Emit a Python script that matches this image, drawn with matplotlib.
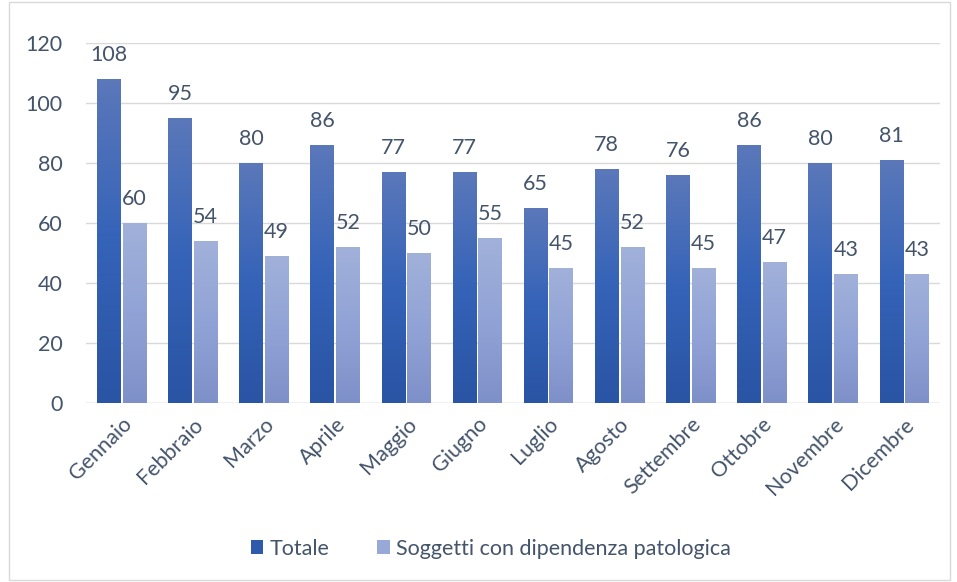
import matplotlib
matplotlib.use("Agg")
import matplotlib.pyplot as plt
import numpy as np
from matplotlib.patches import Rectangle, Patch
from matplotlib.colors import LinearSegmentedColormap

# Data
mesi = ["Gennaio", "Febbraio", "Marzo", "Aprile", "Maggio", "Giugno",
        "Luglio", "Agosto", "Settembre", "Ottobre", "Novembre", "Dicembre"]
totale = [108, 95, 80, 86, 77, 77, 65, 78, 76, 86, 80, 81]
soggetti = [60, 54, 49, 52, 50, 55, 45, 52, 45, 47, 43, 43]
serie_nomi = ["Totale", "Soggetti con dipendenza patologica"]

plt.rcParams['font.family'] = ['Lato', 'DejaVu Sans']
txt_col = '#44546a'
fs = 15.5

fig = plt.figure(figsize=(9.57, 5.82), dpi=100)
ax = fig.add_axes([0.0899, 0.3076, 0.892, 0.6186])

# gradients: bottom colour -> top colour
cmap_tot = LinearSegmentedColormap.from_list('tot', ['#2a54a4', '#3563b8', '#5b78ba'])
cmap_sog = LinearSegmentedColormap.from_list('sog', ['#7e90c8', '#91a3d6', '#a1b1da'])

x = np.arange(len(mesi))
w = 0.33
gap = 0.03
bars1 = ax.bar(x - w / 2 - gap / 2, totale, w, color='#3563b8', label=serie_nomi[0], zorder=2)
bars2 = ax.bar(x + w / 2 + gap / 2, soggetti, w, color='#91a3d6', label=serie_nomi[1], zorder=2)

grad = np.linspace(0, 1, 256).reshape(-1, 1)
for bars, cm in ((bars1, cmap_tot), (bars2, cmap_sog)):
    for b in bars:
        bx, by = b.get_x(), b.get_y()
        bw, bh = b.get_width(), b.get_height()
        im = ax.imshow(grad, cmap=cm, extent=[bx, bx + bw, by, by + bh],
                       origin='lower', aspect='auto', zorder=3)
        im.set_clip_path(b)
        b.set_facecolor('none')
        b.set_edgecolor('none')

for bars, vals in ((bars1, totale), (bars2, soggetti)):
    for b, v in zip(bars, vals):
        ax.text(b.get_x() + b.get_width() / 2, v + 4.5, str(v), ha='center', va='bottom',
                fontsize=fs, color=txt_col, zorder=4)

ax.set_xlim(-0.5, len(mesi) - 0.5)
ax.set_ylim(0, 120)
ax.set_yticks(range(0, 121, 20))
ax.grid(axis='y', color='#d9d9d9', linewidth=1, zorder=0)
ax.set_axisbelow(True)
for s in ax.spines.values():
    s.set_visible(False)
ax.axhline(0, color='#d9d9d9', linewidth=1, zorder=1)
ax.tick_params(axis='both', length=0, labelsize=fs, labelcolor=txt_col)
ax.tick_params(axis='y', pad=17)
ax.set_xticks(x)
ax.set_xticklabels(mesi, rotation=45, ha='right', rotation_mode='anchor')
ax.tick_params(axis='x', pad=8)

# legend
handles = [Patch(facecolor='#2f5aab', label=serie_nomi[0]),
           Patch(facecolor='#98a9d8', label=serie_nomi[1])]
fig.legend(handles=handles, loc='center', bbox_to_anchor=(0.513, 0.057), ncol=2, frameon=False,
           fontsize=fs, labelcolor=txt_col, handlelength=0.6, handleheight=0.6,
           handletextpad=0.3, columnspacing=2.2)

# outer frame
fig.patches.append(Rectangle((0.009, 0.004), 0.984, 0.992, transform=fig.transFigure,
                             fill=False, edgecolor='#d9d9d9', linewidth=1))

fig.savefig('out.png', dpi=100)
